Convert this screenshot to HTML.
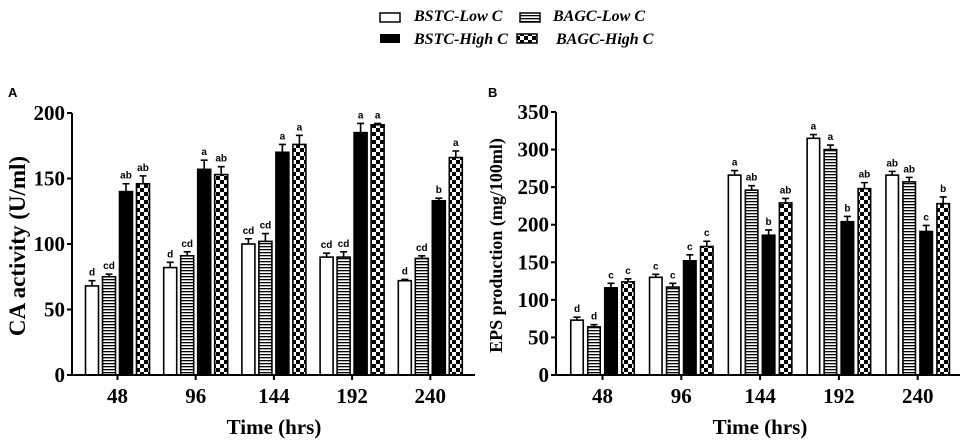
<!DOCTYPE html>
<html><head><meta charset="utf-8"><style>
body{margin:0;background:#fff;}
svg{display:block;font-family:"Liberation Serif",serif;}
</style></head><body>
<svg id="chart" width="964" height="442" viewBox="0 0 964 442" xmlns="http://www.w3.org/2000/svg">
<defs>
<pattern id="stripe" width="4" height="3" patternUnits="userSpaceOnUse"><rect width="4" height="3" fill="#fff"/><rect y="0" width="4" height="1.3" fill="#000"/></pattern>
<pattern id="check" width="8" height="8" patternUnits="userSpaceOnUse"><rect width="8" height="8" fill="#fff"/><rect width="4" height="4" fill="#000"/><rect x="4" y="4" width="4" height="4" fill="#000"/></pattern>
</defs>
<g font-weight="bold" font-style="italic" font-size="16">
<rect x="380" y="13" width="20" height="9" fill="#fff" stroke="#000" stroke-width="1.5"/>
<text x="414" y="21">BSTC-Low C</text>
<rect x="520" y="13" width="20" height="9" fill="url(#stripe)" stroke="#000" stroke-width="1.5"/>
<text x="553" y="21">BAGC-Low C</text>
<rect x="380" y="34" width="20" height="9" fill="#000"/>
<text x="414" y="44">BSTC-High C</text>
<rect x="517" y="34" width="20" height="9" fill="url(#check)" stroke="#000" stroke-width="1.5"/>
<text x="556" y="44">BAGC-High C</text>
</g>
</svg>
<script>
const categories=["48","96","144","192","240"];
const seriesNames=["BSTC-Low C","BAGC-Low C","BSTC-High C","BAGC-High C"];
const aTicks=[0,50,100,150,200];
const aValues=[[68,82,100,90,72],[75,91,102,90,89],[140,157,170,185,133],[146,153,176,191,166]];
const aErrors=[[4,4,4,3,1],[2,3,6,4,2],[6,7,6,7,2],[6,6,7,1,5]];
const aLetters=[["d","d","cd","cd","d"],["cd","cd","cd","cd","cd"],["ab","a","a","a","b"],["ab","ab","a","a","a"]];
const bTicks=[0,50,100,150,200,250,300,350];
const bValues=[[73,130,266,315,266],[64,117,246,300,257],[116,152,186,204,191],[124,171,229,248,228]];
const bErrors=[[4,4,6,5,5],[3,5,6,6,6],[6,8,7,7,8],[4,7,6,8,9]];
const bLetters=[["d","c","a","a","ab"],["d","c","ab","a","ab"],["c","c","b","b","c"],["c","c","ab","ab","b"]];

const NS="http://www.w3.org/2000/svg";
const svg=document.getElementById('chart');
function mk(tag,attrs,parent){const e=document.createElementNS(NS,tag);for(const k in attrs)e.setAttribute(k,attrs[k]);(parent||svg).appendChild(e);return e;}
const fills=["#fff","url(#stripe)","#000","url(#check)"];

function panel(p){
  const g=mk('g',{});
  
  
  const y=v=>p.y0-(v/p.max)*(p.y0-p.yTop);
  const gx=i=>p.firstBar+i*p.groupStep;
  const pl=mk('text',{x:p.letterX,y:97,'font-family':'Liberation Sans, sans-serif','font-weight':'bold','font-size':13},g);
  pl.textContent=p.letter;
  
  
  for(let s=0;s<4;s++){
    for(let i=0;i<categories.length;i++){
      const v=p.values[s][i],e=p.errors[s][i];
      const cx=gx(i)+s*p.barStep;
      const top=y(v);
      const r=mk('rect',{x:cx-p.bw/2,y:top,width:p.bw,height:p.y0-top,fill:fills[s],stroke:'#000','stroke-width':1.6},g);
      
      
      const et=y(v+e);
      const el=mk('path',{d:`M${cx} ${top}V${et}M${cx-3.5} ${et}H${cx+3.5}`,stroke:'#000','stroke-width':1.6,fill:'none'},g);
      
      
      const t=mk('text',{x:cx,y:et-5,'text-anchor':'middle','font-family':'Liberation Sans, sans-serif','font-weight':'bold','font-size':10},g);
      t.textContent=p.letters[s][i];
      
      
    }
  }
  const ax=mk('path',{d:`M${p.ax} ${p.yTop}V${p.y0}H${p.xEnd}`,stroke:'#000','stroke-width':2,fill:'none'},g);
  
  
  p.ticks.forEach(tv=>{
    const ty=y(tv);
    const tk=mk('line',{x1:p.ax-5,x2:p.ax,y1:ty,y2:ty,stroke:'#000','stroke-width':2},g);
    
    
    const tl=mk('text',{x:p.ax-7,y:ty+7,'text-anchor':'end','font-weight':'bold','font-size':21},g);
    tl.textContent=tv;
    
    
  });
  categories.forEach((c,i)=>{
    const cx=gx(i)+1.5*p.barStep;
    const tk=mk('line',{x1:cx,x2:cx,y1:p.y0,y2:p.y0+5,stroke:'#000','stroke-width':2},g);
    
    
    const tl=mk('text',{x:cx,y:p.y0+28,'text-anchor':'middle','font-weight':'bold','font-size':21},g);
    tl.textContent=c;
    
    
  });
  const xt=mk('text',{x:p.xTitleX,y:434,'text-anchor':'middle','font-weight':'bold','font-size':21},g);
  xt.textContent='Time (hrs)';
  
  
  const yt=mk('text',{x:0,y:0,'text-anchor':'middle','font-weight':'bold','font-size':p.ytSize,transform:`translate(${p.ytX},${(p.y0+p.yTop)/2+2}) rotate(-90)`},g);
  yt.textContent=p.ytitle;
  
  
}
panel({name:'panel-a-ca-activity',key:'a',letter:'A',letterX:8,values:aValues,errors:aErrors,letters:aLetters,ticks:aTicks,max:200,
  y0:375,yTop:113,ax:72,xEnd:475,firstBar:92,groupStep:78.2,barStep:17,bw:13,xTitleX:274,ytitle:'CA activity (U/ml)',ytSize:23,ytX:25});
panel({name:'panel-b-eps-production',key:'b',letter:'B',letterX:488,values:bValues,errors:bErrors,letters:bLetters,ticks:bTicks,max:350,
  y0:375,yTop:112,ax:556,xEnd:960,firstBar:577,groupStep:78.8,barStep:17,bw:12.5,xTitleX:760,ytitle:'EPS production (mg/100ml)',ytSize:18,ytX:502});
</script>
</body></html>
